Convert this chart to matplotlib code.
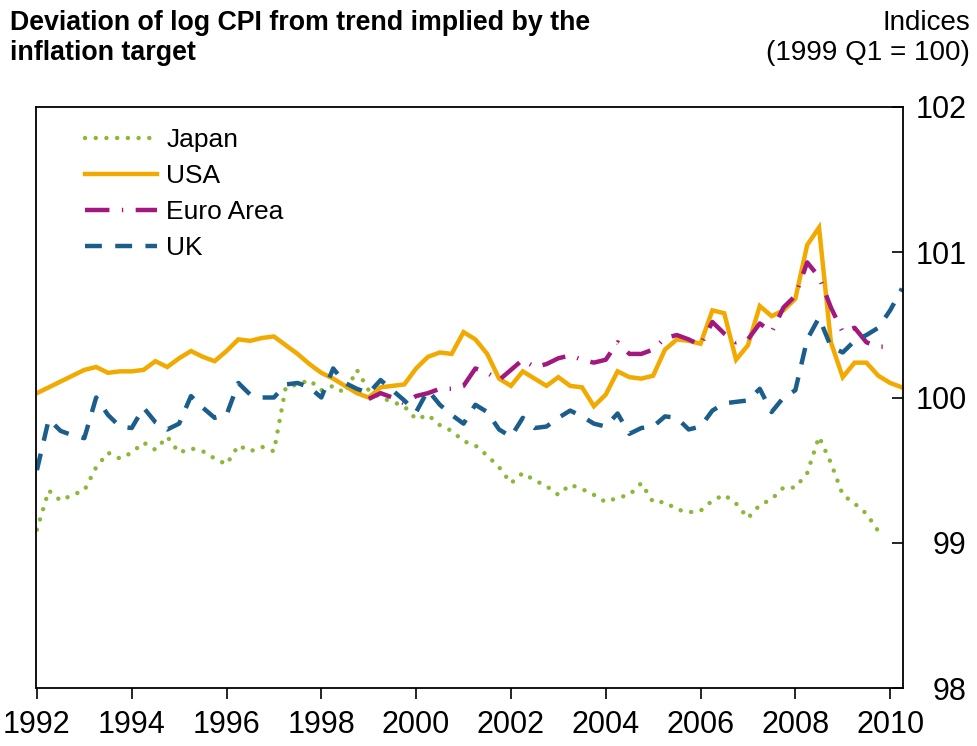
import matplotlib
matplotlib.use("Agg")
import matplotlib.pyplot as plt
import numpy as np

# quarterly deviations, index 1999 Q1 = 100
japan = [99.09, 99.36, 99.29, 99.33, 99.36, 99.52, 99.62, 99.58,
         99.62, 99.69, 99.64, 99.73, 99.62, 99.65, 99.63, 99.58,
         99.54, 99.67, 99.63, 99.66, 99.63, 100.07, 100.09, 100.12,
         100.05, 100.08, 100.03, 100.19, 100.05, 100.00, 99.97, 99.94,
         99.85, 99.88, 99.81, 99.77, 99.70, 99.67, 99.60, 99.52,
         99.41, 99.48, 99.43, 99.39, 99.33, 99.40, 99.37, 99.33,
         99.28, 99.31, 99.33, 99.41, 99.28, 99.28, 99.23, 99.21,
         99.22, 99.29, 99.33, 99.27, 99.17, 99.26, 99.30, 99.38,
         99.38, 99.48, 99.73, 99.55, 99.33, 99.27, 99.20, 99.08]

usa = [100.03, 100.07, 100.11, 100.15, 100.19, 100.21, 100.17, 100.18,
       100.18, 100.19, 100.25, 100.21, 100.27, 100.32, 100.28, 100.25,
       100.32, 100.40, 100.39, 100.41, 100.42, 100.36, 100.30, 100.23,
       100.17, 100.13, 100.08, 100.03, 100.00, 100.07, 100.08, 100.09,
       100.20, 100.28, 100.31, 100.30, 100.45, 100.40, 100.30, 100.13,
       100.08, 100.18, 100.13, 100.08, 100.14, 100.08, 100.07, 99.94,
       100.02, 100.18, 100.14, 100.13, 100.15, 100.33, 100.40, 100.39,
       100.37, 100.60, 100.58, 100.26, 100.36, 100.63, 100.56, 100.60,
       100.68, 101.05, 101.17, 100.38, 100.14, 100.24, 100.24, 100.15,
       100.10, 100.07]

# euro area starts 1999 Q1
euro = [99.99, 100.03, 100.00, 99.96, 100.01, 100.03, 100.06, 100.06,
        100.08, 100.20, 100.17, 100.12, 100.19, 100.26, 100.21, 100.23,
        100.27, 100.29, 100.26, 100.24, 100.26, 100.38, 100.30, 100.30,
        100.33, 100.41, 100.43, 100.40, 100.36, 100.52, 100.44, 100.38,
        100.40, 100.51, 100.45, 100.62, 100.70, 100.93, 100.83, 100.62,
        100.45, 100.48, 100.38, 100.35, 100.35]

uk = [99.50, 99.85, 99.77, 99.74, 99.72, 100.00, 99.88, 99.80,
      99.79, 99.93, 99.83, 99.78, 99.82, 100.01, 99.93, 99.86,
      99.88, 100.10, 100.02, 100.00, 100.00, 100.09, 100.10, 100.07,
      100.00, 100.20, 100.10, 100.06, 100.03, 100.12, 100.05, 99.98,
      99.90, 100.05, 99.95, 99.88, 99.82, 99.95, 99.90, 99.78,
      99.73, 99.86, 99.79, 99.80, 99.86, 99.91, 99.87, 99.82,
      99.80, 99.89, 99.75, 99.79, 99.80, 99.87, 99.86, 99.78,
      99.80, 99.91, 99.96, 99.97, 99.98, 100.06, 99.90, 100.00,
      100.05, 100.40, 100.55, 100.35, 100.31, 100.39, 100.43, 100.48,
      100.60, 100.75]

year_ticks = list(range(1992, 2011, 2))
value_ticks = [98, 99, 100, 101, 102]


def quarters(start, n):
    return start + 0.25 * np.arange(n)


plt.rcParams["font.family"] = ["Liberation Sans", "DejaVu Sans"]

fig = plt.figure(figsize=(9.77, 7.46), dpi=100)
ax = fig.add_axes([0.0368, 0.0777, 0.8874, 0.7789])

ax.plot(quarters(1992, len(japan)), japan, color="#8cb83a", lw=3.2,
        linestyle=(0, (0.01, 2.4)), dash_capstyle="round", label="Japan")
ax.plot(quarters(1992, len(usa)), usa, color="#f2a900", lw=3.2,
        solid_joinstyle="miter", label="USA")
ax.plot(quarters(1999, len(euro)), euro, color="#a3187f", lw=3.2,
        linestyle=(0, (5.5, 2.8, 0.3, 2.8)), label="Euro Area")
ax.plot(quarters(1992, len(uk)), uk, color="#1b5e8c", lw=3.2,
        linestyle=(0, (3.8, 3.0)), label="UK")

ax.set_xlim(1991.98, 2010.27)
ax.set_ylim(98, 102)
ax.set_xticks(year_ticks)
ax.set_yticks(value_ticks)
ax.yaxis.tick_right()
ax.tick_params(axis="x", direction="out", length=8, width=1.2, pad=8,
               labelsize=22)
ax.tick_params(axis="y", direction="in", length=8, width=1.2, pad=46,
               labelsize=22)
for lab in ax.get_yticklabels():
    lab.set_horizontalalignment("right")
for s in ax.spines.values():
    s.set_linewidth(1.3)

ax.legend(loc="upper left", bbox_to_anchor=(0.056, 0.963), frameon=False,
          fontsize=19, handlelength=2.75, handletextpad=0.35,
          labelspacing=0.45, borderpad=0, borderaxespad=0)

fig.text(0.010, 0.986, "Deviation of log CPI from trend implied by the\ninflation target",
         ha="left", va="top", fontsize=19.3, fontweight="bold",
         linespacing=1.2)
fig.text(0.993, 0.986, "Indices\n(1999 Q1 = 100)", ha="right", va="top",
         fontsize=20, linespacing=1.2)

fig.savefig("out.png", dpi=100)
